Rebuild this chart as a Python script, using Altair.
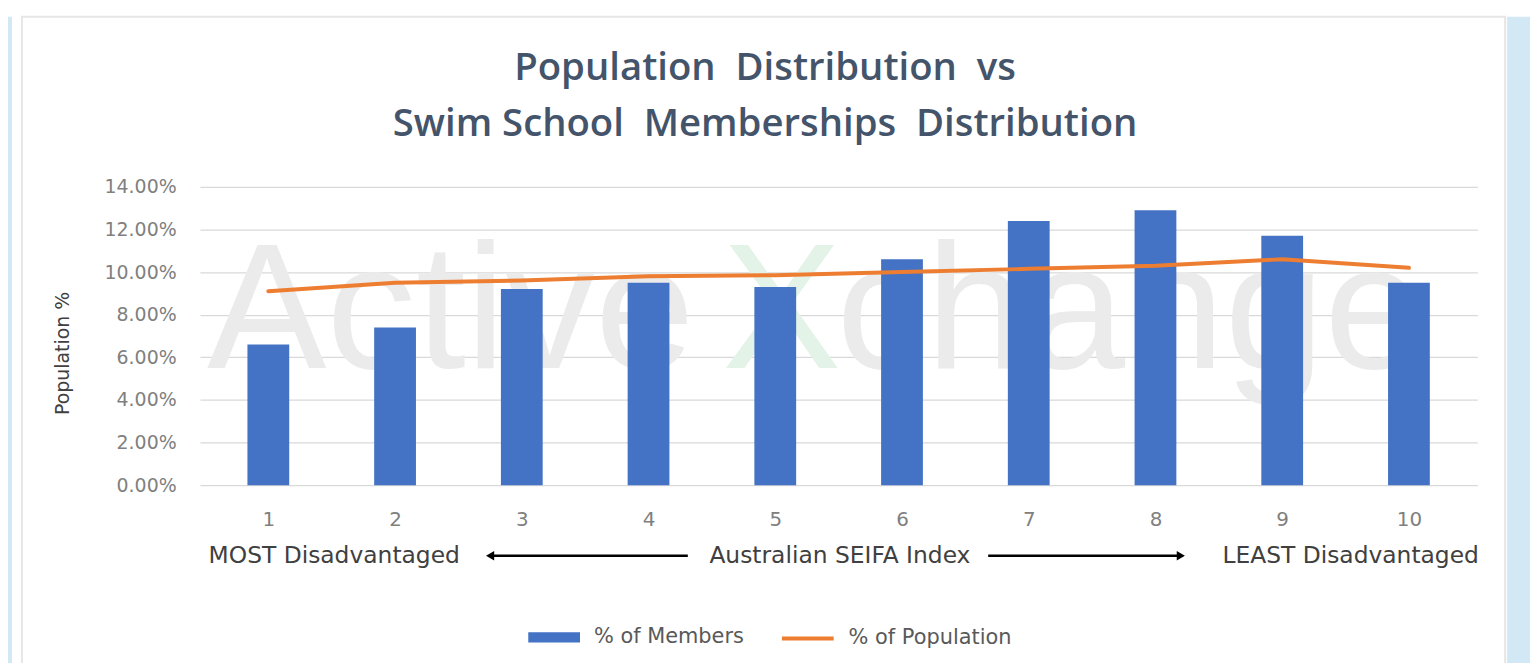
import altair as alt
import pandas as pd

# ---- data ----
deciles = [1, 2, 3, 4, 5, 6, 7, 8, 9, 10]
members_pct = [6.6, 7.4, 9.2, 9.5, 9.3, 10.6, 12.4, 12.9, 11.7, 9.5]
population_pct = [9.1, 9.5, 9.6, 9.8, 9.85, 10.0, 10.15, 10.3, 10.6, 10.2]
series_names = ["% of Members", "% of Population"]
y_ticks = [0, 2, 4, 6, 8, 10, 12, 14]

title_lines = [
    "Population\u00a0 Distribution\u00a0 vs",
    "Swim School\u00a0 Memberships\u00a0 Distribution",
]

annot_labels = ["MOST Disadvantaged", "Australian SEIFA Index", "LEAST Disadvantaged"]
annot_pos = [1.52, 5.51, 9.54]
arrow_start = [4.31, 6.68]
arrow_end = [2.75, 8.20]
arrow_heads = ["triangle-left", "triangle-right"]

wm_words = ["Active", "X", "change"]
wm_pos = [2.44, 5.05, 7.80]
wm_colors = ["#ebebeb", "#e4f3e8", "#ebebeb"]

BLUE = "#4472C4"
ORANGE = "#ED7D31"
W, H = 1284, 300
FONT = "DejaVu Sans"

bars_df = pd.DataFrame({"decile": deciles, "value": members_pct, "series": series_names[0]})
line_df = pd.DataFrame({"decile": deciles, "value": population_pct, "series": series_names[1]})
annot_df = pd.DataFrame({"x": annot_pos, "label": annot_labels})
arrow_df = pd.DataFrame({"x": arrow_start, "x2": arrow_end, "shape": arrow_heads})
wm_df = pd.DataFrame({"x": wm_pos, "word": wm_words, "col": wm_colors})

xscale = alt.Scale(domain=[0.5, 10.5], nice=False, zero=False)
yscale = alt.Scale(domain=[0, 14], nice=False)

one = pd.DataFrame({"a": [0]})
# light-blue strips at the page edges and the thin panel border
strip_right = alt.Chart(one).mark_rect(fill="#d3e8f5").encode(
    x=alt.value(1314), x2=alt.value(1345), y=alt.value(-171), y2=alt.value(480)
)
strip_left = alt.Chart(one).mark_rect(fill="#d3e8f5").encode(
    x=alt.value(-195), x2=alt.value(-189), y=alt.value(-171), y2=alt.value(480)
)
border = alt.Chart(one).mark_rect(
    fillOpacity=0, stroke="#e6e6e6", strokeWidth=2
).encode(x=alt.value(-179), x2=alt.value(1312), y=alt.value(-171), y2=alt.value(520))

watermark = alt.Chart(wm_df).mark_text(
    fontSize=180, font="Liberation Sans", baseline="middle", align="center"
).encode(
    x=alt.X("x:Q", scale=xscale),
    y=alt.value(H - 8.0 / 14 * H),
    text="word:N",
    color=alt.Color("col:N", scale=None),
)

legend_common = dict(
    title=None,
    orient="none",
    direction="horizontal",
    symbolSize=2704,
    labelFontSize=21,
    labelColor="#595959",
    labelFont=FONT,
    labelOffset=13,
    labelLimit=400,
)

bars = alt.Chart(bars_df).mark_bar(size=42).encode(
    x=alt.X(
        "decile:Q",
        scale=xscale,
        axis=alt.Axis(
            values=deciles, format="d", grid=False, domain=False, ticks=False,
            labelPadding=24, labelFontSize=20, labelColor="#808080", labelFont=FONT,
            title=None,
        ),
    ),
    y=alt.Y(
        "value:Q",
        scale=yscale,
        axis=alt.Axis(
            values=y_ticks, labelExpr="format(datum.value, '.2f') + '%'",
            domain=False, ticks=False, gridColor="#d9d9d9", gridWidth=1.2,
            labelPadding=24, labelFontSize=19, labelColor="#808080", labelFont=FONT,
            title="Population %", titleFontSize=19, titleFontWeight="normal",
            titleColor="#404040", titleFont=FONT, titleX=-138, titleY=H / 2 + 17,
            titleAngle=-90, titleBaseline="middle", titleAlign="center",
        ),
    ),
    color=alt.Color(
        "series:N",
        scale=alt.Scale(domain=[series_names[0]], range=[BLUE]),
        legend=alt.Legend(legendX=329, legendY=426, symbolType="M-1,-0.2H1V0.2H-1Z",
                          **legend_common),
    ),
)

line = alt.Chart(line_df).mark_line(strokeWidth=4, strokeCap="round").encode(
    x=alt.X("decile:Q", scale=xscale),
    y=alt.Y("value:Q", scale=yscale),
    color=alt.Color(
        "series:N",
        scale=alt.Scale(domain=[series_names[1]], range=[ORANGE]),
        legend=alt.Legend(legendX=583, legendY=426, symbolType="stroke",
                          symbolStrokeWidth=4, **legend_common),
    ),
)

annot = alt.Chart(annot_df).mark_text(
    fontSize=23.5, font=FONT, color="#404040", baseline="middle", align="center"
).encode(x=alt.X("x:Q", scale=xscale), y=alt.value(H + 71), text="label:N")

arrow_lines = alt.Chart(arrow_df).mark_rule(color="black", strokeWidth=2.5).encode(
    x=alt.X("x:Q", scale=xscale), x2="x2:Q", y=alt.value(H + 71)
)
arrow_tips = alt.Chart(arrow_df).mark_point(
    filled=True, color="black", size=90, opacity=1
).encode(
    x=alt.X("x2:Q", scale=xscale),
    y=alt.value(H + 71),
    shape=alt.Shape("shape:N", scale=None),
)

chart = alt.layer(
    strip_left, strip_right, border, watermark, bars, line, annot, arrow_lines, arrow_tips
).resolve_scale(color="independent").properties(
    width=W,
    height=H,
    padding={"left": 193, "top": 178, "right": 53, "bottom": 177},
    autosize=alt.AutoSizeParams(type="none"),
    background="white",
    title=alt.TitleParams(
        text=title_lines,
        fontSize=38.5,
        font="Open Sans",
        fontWeight=600,
        color="#44546A",
        lineHeight=56,
        anchor="middle",
        frame="group",
        dx=-74,
        offset=-129,
    ),
).configure_view(stroke=None)

chart.save("out.html", embed_options={"renderer": "svg", "actions": False})
